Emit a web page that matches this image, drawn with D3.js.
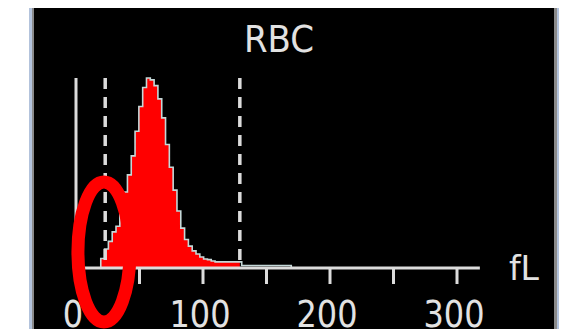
<!DOCTYPE html>
<html>
<head>
<meta charset="utf-8">
<script src="https://cdn.jsdelivr.net/npm/d3@7"></script>
<style>
  html, body { margin: 0; padding: 0; background: #ffffff; }
  svg { display: block; }
</style>
</head>
<body>
<script>
// RBC volume distribution (fL) with discriminator lines
const binCenters = [18, 21, 24, 27, 30, 33, 36, 39, 42, 45, 48, 51, 54, 57, 60, 63, 66, 69, 72, 75,
                    78, 81, 84, 87, 90, 93, 96, 99, 102, 105, 108, 111, 114, 117, 120, 123, 126, 129,
                    132, 135, 138, 141, 144, 147, 150, 153, 156, 159, 162, 165, 168, 171];
const binCounts  = [0, 5, 10, 14, 19, 22, 29, 40, 49, 59, 72, 85, 95, 100, 99, 96, 89, 79, 65, 53,
                    41, 30, 21, 15, 11.5, 9, 7.4, 5.8, 4.7, 4.4, 3.7, 3.2, 3.2, 3.2, 3.2, 3.2, 3.2, 3.2,
                    1.3, 1.3, 1.3, 1.3, 1.3, 1.3, 1.3, 1.3, 1.3, 1.3, 1.3, 1.3, 1.3, 0];
const discriminators = [23, 129];
const tickValues = [50, 100, 150, 200, 250, 300];
const tickLabels = [0, 100, 200, 300];
const titleText = "RBC";
const unitText = "fL";
const markedVolume = 22;   // region circled on the low-volume side

const W = 561, H = 329;
const svg = d3.select("body").append("svg").attr("width", W).attr("height", H);

// panel with framed edges
svg.append("rect").attr("x", 29).attr("y", 8).attr("width", 530).attr("height", H - 8).attr("fill", "#b3c3dc");
svg.append("rect").attr("x", 32).attr("y", 8).attr("width", 525).attr("height", H - 8).attr("fill", "#8a8a8a");
svg.append("rect").attr("x", 34).attr("y", 8).attr("width", 520).attr("height", H - 8).attr("fill", "#000000");

const x = d3.scaleLinear().domain([0, 300]).range([76, 457]);
const y = d3.scaleLinear().domain([0, 100]).range([268, 78]);
const axisEnd = 318;

const bins = binCenters.map((c, i) => ({ v: c, n: binCounts[i] }));
const fg = "#dcdcdc";

// vertical count axis
svg.append("line")
  .attr("x1", x(0)).attr("x2", x(0)).attr("y1", y(100)).attr("y2", y(0))
  .attr("stroke", fg).attr("stroke-width", 3);

// red fill up to the upper discriminator
svg.append("clipPath").attr("id", "fillClip")
  .append("rect").attr("x", 0).attr("y", 0)
  .attr("width", x(discriminators[1])).attr("height", H);

const area = d3.area().curve(d3.curveStep)
  .x(d => x(d.v)).y0(y(0)).y1(d => y(d.n));
const line = d3.line().curve(d3.curveStep)
  .x(d => x(d.v)).y(d => y(d.n));

svg.append("path").datum(bins)
  .attr("d", area).attr("fill", "#ff0000")
  .attr("clip-path", "url(#fillClip)");
svg.append("path").datum(bins)
  .attr("d", line).attr("fill", "none")
  .attr("stroke", "#c4d8d8").attr("stroke-width", 1.6);

// discriminator lines
svg.selectAll("line.disc").data(discriminators).enter().append("line")
  .attr("class", "disc")
  .attr("x1", d => x(d)).attr("x2", d => x(d))
  .attr("y1", y(100)).attr("y2", y(0) - 4)
  .attr("stroke", fg).attr("stroke-width", 3.5)
  .attr("stroke-dasharray", "11,8");

// baseline and ticks
svg.append("line")
  .attr("x1", x(0)).attr("x2", x(axisEnd)).attr("y1", y(0)).attr("y2", y(0))
  .attr("stroke", fg).attr("stroke-width", 3);
svg.selectAll("line.tick").data(tickValues).enter().append("line")
  .attr("class", "tick")
  .attr("x1", d => x(d)).attr("x2", d => x(d))
  .attr("y1", y(0)).attr("y2", y(0) + 16)
  .attr("stroke", fg).attr("stroke-width", 3);

const textStyle = sel => sel
  .attr("fill", "#e2e2e2")
  .attr("font-family", "DejaVu Sans, Verdana, sans-serif");

svg.selectAll("text.tl").data(tickLabels).enter().append("text")
  .attr("class", "tl")
  .attr("transform", d => `translate(${x(d) - 3},327) scale(1,1.15)`)
  .attr("text-anchor", "middle")
  .attr("font-size", 32)
  .text(d => d)
  .call(textStyle);

svg.append("text")
  .attr("transform", "translate(279,52) scale(1,1.08)")
  .attr("text-anchor", "middle")
  .attr("font-size", 34)
  .text(titleText)
  .call(textStyle);

svg.append("text")
  .attr("transform", "translate(524,280) scale(1,1.0)")
  .attr("text-anchor", "middle")
  .attr("font-size", 33)
  .text(unitText)
  .call(textStyle);

// hand-drawn style marker around the low-volume region
svg.append("ellipse")
  .attr("cx", x(markedVolume)).attr("cy", 252)
  .attr("rx", 26).attr("ry", 70)
  .attr("fill", "none").attr("stroke", "#ff0000").attr("stroke-width", 13);
</script>
</body>
</html>
